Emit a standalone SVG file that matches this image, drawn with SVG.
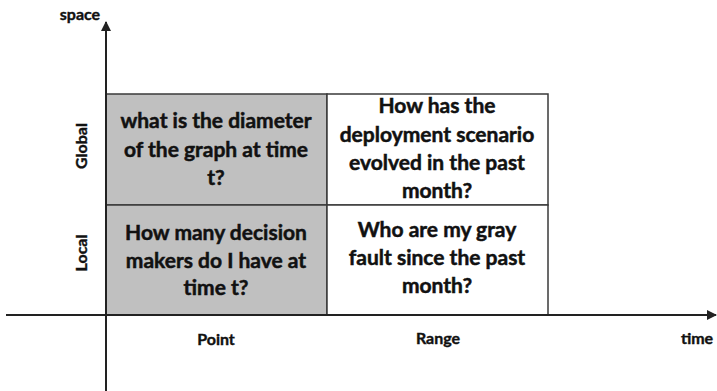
<svg xmlns="http://www.w3.org/2000/svg" width="717" height="391" viewBox="0 0 717 391">
  <style>
    .cell { stroke: #3a3a3a; stroke-width: 1.5; }
    .gray { fill: #c0c0c0; }
    .white { fill: #ffffff; }
    .q { font-family: Lato, "Liberation Sans", sans-serif; font-weight: bold; font-size: 21px; fill: #111; stroke: #111; stroke-width: 0.5; text-anchor: middle; }
    .lbl { font-family: Lato, "Liberation Sans", sans-serif; font-weight: bold; font-size: 16px; fill: #111; stroke: #111; stroke-width: 0.4; text-anchor: middle; }
    .axis { stroke: #222; stroke-width: 2; fill: none; }
  </style>
  <defs>
    <marker id="arrow" viewBox="0 0 10 10" refX="9" refY="5" markerWidth="5" markerHeight="5" orient="auto" markerUnits="strokeWidth">
      <path d="M0,0 L10,5 L0,10 z" fill="#222"/>
    </marker>
  </defs>
  <rect width="717" height="391" fill="#ffffff"/>

  <g id="cell-global-point">
    <rect class="cell gray" x="106" y="94" width="221" height="111"/>
    <text class="q" x="216" y="128">what is the diameter</text>
    <text class="q" x="216" y="157">of the graph at time</text>
    <text class="q" x="216" y="185">t?</text>
  </g>
  <g id="cell-global-range">
    <rect class="cell white" x="327" y="94" width="221" height="111"/>
    <text class="q" x="437" y="113">How has the</text>
    <text class="q" x="437" y="142">deployment scenario</text>
    <text class="q" x="437" y="170">evolved in the past</text>
    <text class="q" x="437" y="198">month?</text>
  </g>
  <g id="cell-local-point">
    <rect class="cell gray" x="106" y="205" width="221" height="110"/>
    <text class="q" x="216" y="240">How many decision</text>
    <text class="q" x="216" y="268">makers do I have at</text>
    <text class="q" x="216" y="295">time t?</text>
  </g>
  <g id="cell-local-range">
    <rect class="cell white" x="327" y="205" width="221" height="110"/>
    <text class="q" x="437" y="237">Who are my gray</text>
    <text class="q" x="437" y="265">fault since the past</text>
    <text class="q" x="437" y="293">month?</text>
  </g>

  <g id="axes">
    <line class="axis" x1="106" y1="391" x2="106" y2="22" marker-end="url(#arrow)"/>
    <line class="axis" x1="6" y1="315" x2="716" y2="315" marker-end="url(#arrow)"/>
  </g>

  <g id="labels">
    <text class="lbl" x="80" y="20">space</text>
    <text class="lbl" x="697" y="344">time</text>
    <text class="lbl" x="216" y="345">Point</text>
    <text class="lbl" x="438" y="344">Range</text>
    <text class="lbl" transform="translate(87,146) rotate(-90)">Global</text>
    <text class="lbl" transform="translate(87,253) rotate(-90)">Local</text>
  </g>
</svg>
